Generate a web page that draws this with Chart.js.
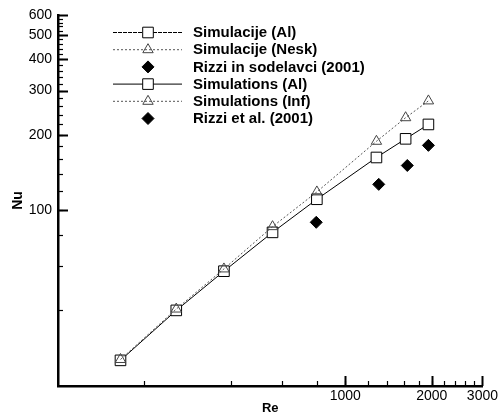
<!DOCTYPE html>
<html>
<head>
<meta charset="utf-8">
<script src="https://cdn.jsdelivr.net/npm/chart.js@4/dist/chart.umd.min.js"></script>
<style>
  html, body { margin: 0; padding: 0; background: #fff; }
  #wrap { width: 500px; height: 416px; }
</style>
</head>
<body>
<div id="wrap"><canvas id="grafico" width="500" height="416"></canvas></div>
<script>
// Datos
const reSim = [165, 258, 378, 558, 796, 1283, 1621, 1946];
const nuAl = [25.3, 40, 57.3, 81.8, 110.8, 162.5, 192.8, 220];
const nuInf = [25.5, 40.5, 58.5, 86.2, 118.5, 188.5, 234, 273];
const reRizzi = [792, 1307, 1643, 1946];
const nuRizzi = [89.7, 127, 151, 181.6];

const yTickLabels = [100, 200, 300, 400, 500, 600];
const xTickLabels = [1000, 2000, 3000];

const leyenda = [
  { text: "Simulacije (Al)", style: "al", dash: [4, 1] },
  { text: "Simulacije (Nesk)", style: "inf" },
  { text: "Rizzi in sodelavci (2001)", style: "rizzi" },
  { text: "Simulations (Al)", style: "al", dash: [] },
  { text: "Simulations (Inf)", style: "inf" },
  { text: "Rizzi et al. (2001)", style: "rizzi" }
];

const fuente = "'Liberation Sans', Arial, sans-serif";
Chart.defaults.font.family = fuente;
Chart.defaults.color = "#000";

// minor ticks cada 20 (y) y cada 200 (x)
const yMinor = [];
for (let v = 40; v < 600; v += 20) yMinor.push(v);
const xMinor = [];
for (let v = 200; v < 3000; v += 200) xMinor.push(v);

// marcas hacia adentro del area
const marcas = {
  id: "marcas",
  afterDraw(chart) {
    const ctx = chart.ctx;
    const a = chart.chartArea;
    const sx = chart.scales.x, sy = chart.scales.y;
    ctx.save();
    ctx.strokeStyle = "#000";
    ctx.lineWidth = 1.2;
    yMinor.forEach(v => {
      const y = Math.round(sy.getPixelForValue(v)) + 0.5;
      ctx.beginPath(); ctx.moveTo(a.left, y); ctx.lineTo(a.left + 5, y); ctx.stroke();
    });
    ctx.lineWidth = 2;
    yTickLabels.forEach(v => {
      const y = Math.round(sy.getPixelForValue(v)) + 0.5;
      ctx.beginPath(); ctx.moveTo(a.left, y); ctx.lineTo(a.left + 10, y); ctx.stroke();
    });
    ctx.lineWidth = 1.2;
    xMinor.forEach(v => {
      const x = Math.round(sx.getPixelForValue(v)) + 0.5;
      ctx.beginPath(); ctx.moveTo(x, a.bottom); ctx.lineTo(x, a.bottom - 5); ctx.stroke();
    });
    ctx.lineWidth = 2;
    xTickLabels.forEach(v => {
      const x = Math.round(sx.getPixelForValue(v)) + 0.5;
      ctx.beginPath(); ctx.moveTo(x, a.bottom); ctx.lineTo(x, a.bottom - 10); ctx.stroke();
    });
    ctx.restore();
  }
};

// leyenda dentro del grafico
const leyendaPlugin = {
  id: "leyendaInterna",
  afterDraw(chart) {
    const ctx = chart.ctx;
    const ds = chart.data.datasets;
    ctx.save();
    leyenda.forEach((item, i) => {
      const y = 32.5 + i * 17.2;
      const d = item.style === "al" ? ds[0] : item.style === "inf" ? ds[1] : ds[2];
      if (item.style !== "rizzi") {
        ctx.beginPath();
        ctx.strokeStyle = d.borderColor;
        ctx.lineWidth = 1;
        ctx.setLineDash(item.dash || d.borderDash || []);
        ctx.moveTo(113, y); ctx.lineTo(182, y);
        ctx.stroke();
        ctx.setLineDash([]);
      }
      ctx.strokeStyle = d.pointBorderColor;
      ctx.fillStyle = d.pointBackgroundColor;
      ctx.lineWidth = 1;
      Chart.helpers.drawPoint(ctx, { pointStyle: d.pointStyle, radius: d.pointRadius, borderWidth: 1 }, 148, y);
      ctx.fillStyle = "#000";
      ctx.font = "bold 15px " + fuente;
      ctx.textBaseline = "middle";
      ctx.fillText(item.text, 193, y + 0.5);
    });
    ctx.restore();
  }
};

new Chart(document.getElementById("grafico"), {
  type: "scatter",
  data: {
    datasets: [
      {
        label: "Simulations (Al)",
        data: reSim.map((r, i) => ({ x: r, y: nuAl[i] })),
        showLine: true,
        borderColor: "#000",
        borderWidth: 1,
        pointStyle: "rect",
        pointRadius: 7.5,
        pointBorderColor: "#000",
        pointBackgroundColor: "#fff",
        pointBorderWidth: 1,
        order: 2
      },
      {
        label: "Simulations (Inf)",
        data: reSim.map((r, i) => ({ x: r, y: nuInf[i] })),
        showLine: true,
        borderColor: "#555",
        borderWidth: 1,
        borderDash: [2, 2],
        pointStyle: "triangle",
        pointRadius: 6,
        pointBorderColor: "#444",
        pointBackgroundColor: "rgba(255,255,255,0)",
        pointBorderWidth: 1,
        order: 1
      },
      {
        label: "Rizzi et al. (2001)",
        data: reRizzi.map((r, i) => ({ x: r, y: nuRizzi[i] })),
        showLine: false,
        pointStyle: "rectRot",
        pointRadius: 6,
        pointBorderColor: "#000",
        pointBackgroundColor: "#000",
        pointBorderWidth: 1,
        order: 0
      }
    ]
  },
  options: {
    responsive: false,
    animation: false,
    layout: { padding: { top: 15, right: 14, left: 0, bottom: 0 } },
    plugins: { legend: { display: false }, tooltip: { enabled: false } },
    scales: {
      x: {
        type: "logarithmic",
        min: 100,
        max: 3000,
        afterBuildTicks: s => { s.ticks = xTickLabels.map(v => ({ value: v })); },
        afterFit: s => { s.height = 30; },
        ticks: { callback: v => String(v), font: { size: 14 }, padding: 2, maxRotation: 0, autoSkip: false },
        grid: { drawOnChartArea: false, drawTicks: false },
        border: { display: true, color: "#000", width: 2.5 },
        title: { display: true, text: "Re", font: { size: 13, weight: "bold" }, padding: { top: 0, bottom: 0 } }
      },
      y: {
        type: "logarithmic",
        min: 20,
        max: 600,
        afterBuildTicks: s => { s.ticks = yTickLabels.map(v => ({ value: v })); },
        afterFit: s => { s.width = 58; },
        ticks: { callback: v => String(v), font: { size: 14 }, padding: 6, autoSkip: false },
        grid: { drawOnChartArea: false, drawTicks: false },
        border: { display: true, color: "#000", width: 2.5 },
        title: { display: true, text: "Nu", font: { size: 14, weight: "bold" }, padding: { top: 10, bottom: 0 } }
      }
    }
  },
  plugins: [marcas, leyendaPlugin]
});
</script>
</body>
</html>
